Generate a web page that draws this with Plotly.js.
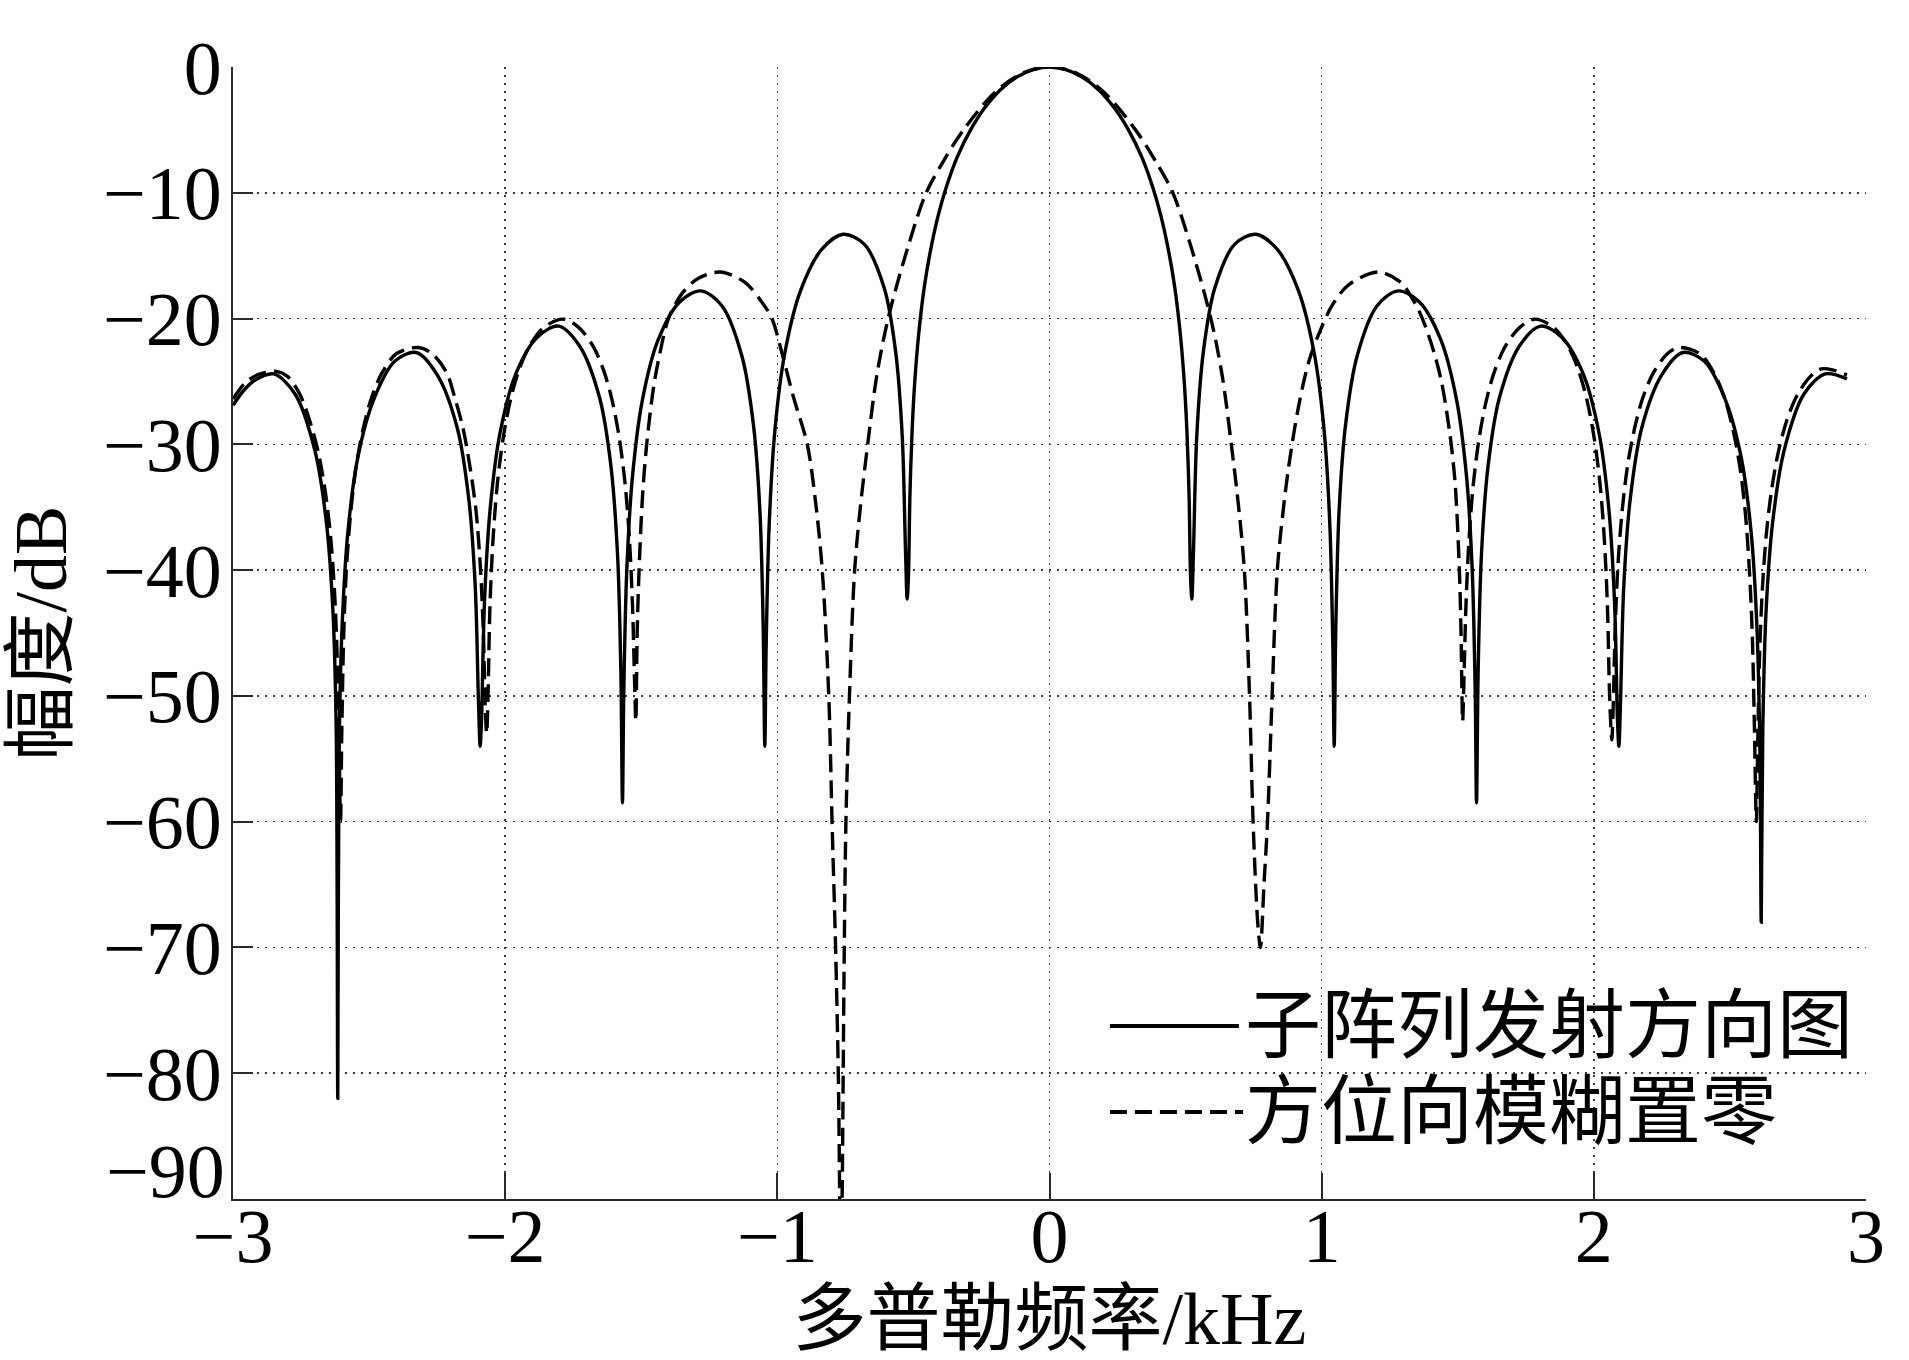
<!DOCTYPE html>
<html>
<head>
<meta charset="utf-8">
<script src="https://cdn.plot.ly/plotly-3.0.1.min.js"></script>
<style>
html,body{margin:0;padding:0;background:#ffffff;}
#chart{width:1909px;height:1360px;}
</style>
</head>
<body>
<div id="chart"></div>
<script>
// ---- text ----
const solidName = '子阵列发射方向图';
const dashedName = '方位向模糊置零';
const xTitle = '多普勒频率/kHz';
const yTitle = '幅度/dB';

// ---- ticks ----
const xTickVals = [-3, -2, -1, 0, 1, 2, 3];
const yTickVals = [0, -10, -20, -30, -40, -50, -60, -70, -80, -90];
// the bottom label (−90) sits a little higher in the reference, drawn separately below
const yTickText = ['0', '−10', '−20', '−30', '−40', '−50', '−60', '−70', '−80', ''];
const yBottomLabel = '−90';

// ---- series: 子阵列发射方向图 (solid) ----
const solidX = [
  -3.000, -2.960, -2.920, -2.850, -2.772, -2.699, -2.657, -2.633, -2.621, -2.615,
  -2.610, -2.599, -2.578, -2.542, -2.484, -2.406, -2.327, -2.249, -2.176, -2.134, -2.110, -2.098, -2.092,
  -2.087, -2.076, -2.055, -2.019, -1.961, -1.883, -1.804, -1.726, -1.653, -1.611, -1.587, -1.575, -1.569,
  -1.564, -1.553, -1.532, -1.496, -1.438, -1.360, -1.281, -1.203, -1.130, -1.088, -1.064, -1.052, -1.046,
  -1.041, -1.030, -1.009, -0.973, -0.915, -0.837, -0.758, -0.680, -0.607, -0.565, -0.541, -0.529, -0.523,
  -0.518, -0.513, -0.505, -0.495, -0.480, -0.460, -0.440, -0.410, -0.380, -0.340, -0.290, -0.240, -0.180, -0.120, -0.060,
  0.000,
  0.060, 0.120, 0.180, 0.240, 0.290, 0.340, 0.380, 0.410, 0.440, 0.460, 0.480, 0.495, 0.505, 0.513, 0.518, 0.523,
  0.529, 0.541, 0.565, 0.607, 0.680, 0.758, 0.837, 0.915, 0.973, 1.009, 1.030, 1.041, 1.046,
  1.052, 1.064, 1.088, 1.130, 1.203, 1.281, 1.360, 1.438, 1.496, 1.532, 1.553, 1.564, 1.569,
  1.575, 1.587, 1.611, 1.653, 1.726, 1.804, 1.883, 1.961, 2.019, 2.055, 2.076, 2.087, 2.092,
  2.098, 2.110, 2.134, 2.176, 2.249, 2.327, 2.406, 2.484, 2.542, 2.578, 2.599, 2.610, 2.615,
  2.621, 2.633, 2.657, 2.699, 2.772, 2.850, 2.930
];
const solidY = [
  -26.9, -25.7, -24.9, -24.4, -26.0, -30.5, -36.2, -43.2, -52.4, -82.0,
  -54.0, -44.4, -37.0, -31.1, -26.5, -23.4, -22.7, -24.5, -28.7, -34.3, -41.3, -50.5, -54.0,
  -52.0, -42.5, -35.1, -29.1, -24.4, -21.5, -20.6, -22.2, -26.3, -31.8, -38.8, -48.0, -58.5,
  -49.5, -39.9, -32.5, -26.5, -21.7, -18.7, -17.8, -19.0, -23.0, -28.4, -35.3, -44.5, -54.0,
  -46.0, -36.4, -28.9, -22.8, -17.8, -14.5, -13.3, -14.1, -17.6, -22.7, -29.4, -38.5, -42.3,
  -40.3, -34.2, -29.0, -25.0, -21.1, -17.5, -14.9, -11.9, -9.6, -7.2, -5.0, -3.3, -1.8, -0.8, -0.2,
  0.0,
  -0.2, -0.8, -1.8, -3.3, -5.0, -7.2, -9.6, -11.9, -14.9, -17.5, -21.1, -25.0, -29.0, -34.2, -40.3, -42.3,
  -38.5, -29.4, -22.7, -17.6, -14.1, -13.3, -14.5, -17.8, -22.8, -28.9, -36.4, -46.0, -54.0,
  -44.5, -35.3, -28.4, -23.0, -19.0, -17.8, -18.7, -21.7, -26.5, -32.5, -39.9, -49.5, -58.5,
  -48.0, -38.8, -31.8, -26.3, -22.2, -20.6, -21.5, -24.4, -29.1, -35.1, -42.5, -52.0, -54.0,
  -50.5, -41.3, -34.3, -28.7, -24.5, -22.7, -23.4, -26.5, -31.1, -37.0, -44.4, -54.0, -68.0,
  -52.4, -43.2, -36.2, -30.5, -26.0, -24.4, -24.8
];

// ---- series: 方位向模糊置零 (dashed) ----
const dashedX = [
  -3.000, -2.950, -2.900, -2.840, -2.800, -2.755, -2.717, -2.687, -2.662, -2.642, -2.627, -2.617, -2.610, -2.605,
  -2.600, -2.593, -2.583, -2.567, -2.547, -2.521, -2.491, -2.452, -2.400, -2.320, -2.268, -2.215, -2.185, -2.155, -2.130, -2.107, -2.091, -2.080, -2.073, -2.068,
  -2.063, -2.056, -2.045, -2.029, -2.008, -1.982, -1.951, -1.911, -1.858, -1.785, -1.730, -1.677, -1.637, -1.606, -1.580, -1.559, -1.543, -1.532, -1.525, -1.520,
  -1.515, -1.508, -1.495, -1.480, -1.455, -1.430, -1.400, -1.350, -1.290, -1.210, -1.120, -1.060, -1.020, -0.980, -0.940, -0.890, -0.860, -0.835, -0.811, -0.799, -0.786, -0.776, -0.767,
  -0.762, -0.758, -0.754, -0.748, -0.735, -0.716, -0.695, -0.668, -0.635, -0.593, -0.520, -0.453, -0.390, -0.316, -0.200, -0.100,
  0.000,
  0.100, 0.200, 0.316, 0.390, 0.453, 0.520, 0.593, 0.635, 0.668, 0.695, 0.716, 0.735, 0.748, 0.765, 0.775,
  0.788, 0.801, 0.818, 0.837, 0.860, 0.880, 0.915, 0.953, 0.990, 1.040, 1.100, 1.208, 1.290, 1.330, 1.370, 1.410, 1.440, 1.470, 1.490, 1.506, 1.512, 1.518,
  1.523, 1.530, 1.541, 1.557, 1.578, 1.604, 1.635, 1.675, 1.728, 1.782, 1.852, 1.905, 1.945, 1.976, 2.002, 2.023, 2.039, 2.050, 2.058, 2.066,
  2.071, 2.078, 2.088, 2.104, 2.124, 2.150, 2.180, 2.219, 2.270, 2.312, 2.390, 2.441, 2.480, 2.510, 2.536, 2.556, 2.571, 2.582, 2.590, 2.597,
  2.602, 2.609, 2.619, 2.634, 2.654, 2.679, 2.709, 2.747, 2.796, 2.836, 2.880, 2.930
];
const dashedY = [
  -26.4, -25.0, -24.4, -24.2, -24.6, -26.0, -28.2, -30.6, -33.6, -37.2, -41.7, -47.0, -54.0, -60.0,
  -52.5, -45.0, -39.8, -35.3, -31.7, -28.7, -26.3, -24.3, -22.8, -22.3, -22.8, -24.3, -26.3, -28.7, -31.7, -35.3, -39.8, -45.0, -51.0, -53.0,
  -50.0, -42.9, -37.7, -33.2, -29.6, -26.6, -24.2, -22.2, -20.7, -20.05, -20.7, -22.2, -24.2, -26.6, -29.6, -33.2, -37.7, -42.9, -48.5, -52.0,
  -45.0, -40.0, -34.0, -30.0, -25.5, -22.6, -20.0, -18.0, -16.8, -16.3, -17.1, -18.6, -20.0, -23.0, -26.3, -30.0, -34.5, -40.0, -50.0, -60.0, -70.0, -80.0, -95.0,
  -90.0, -80.0, -70.0, -60.0, -50.0, -40.0, -35.0, -30.0, -24.6, -20.0, -14.3, -10.0, -7.5, -5.0, -2.0, -0.5,
  0.0,
  -0.5, -2.0, -5.0, -7.5, -10.0, -14.3, -20.0, -24.6, -30.0, -35.0, -40.0, -50.0, -60.0, -68.0, -70.0,
  -65.0, -60.0, -50.0, -40.0, -35.0, -31.6, -27.0, -23.4, -21.2, -18.9, -17.3, -16.3, -17.1, -18.3, -20.0, -22.5, -25.0, -29.0, -33.0, -40.0, -45.0, -52.0,
  -48.5, -42.9, -37.7, -33.2, -29.6, -26.6, -24.2, -22.2, -20.7, -20.05, -20.7, -22.2, -24.2, -26.6, -29.6, -33.2, -37.7, -42.9, -50.0, -53.5,
  -51.0, -45.0, -39.8, -35.3, -31.7, -28.7, -26.3, -24.3, -22.8, -22.3, -22.8, -24.3, -26.3, -28.7, -31.7, -35.3, -39.8, -45.0, -52.5, -60.0,
  -54.0, -46.8, -41.6, -37.1, -33.5, -30.5, -28.1, -26.1, -24.6, -24.0, -24.1, -24.5
];

// ---- styling ----
const serif = "'Liberation Serif', 'Times New Roman', serif";
const mixed = "'Liberation Serif', 'Noto Sans CJK SC', serif";
const ink = '#000000';
const axisInk = '#2a2a2a';
const gridInk = '#3a3a3a';

const traces = [
  {
    type: 'scatter', mode: 'lines', name: solidName,
    x: solidX, y: solidY,
    line: {color: ink, width: 3.4, dash: 'solid', shape: 'spline', smoothing: 0.9},
    showlegend: false, hoverinfo: 'skip'
  },
  {
    type: 'scatter', mode: 'lines', name: dashedName,
    x: dashedX, y: dashedY,
    line: {color: ink, width: 3.4, dash: '18px,8px', shape: 'spline', smoothing: 0.9},
    showlegend: false, hoverinfo: 'skip'
  }
];

const commonAxis = {
  ticks: 'inside', tickwidth: 2, tickcolor: axisInk,
  showline: true, linecolor: axisInk, linewidth: 2, mirror: false,
  zeroline: false,
  showgrid: true, gridcolor: gridInk, gridwidth: 1.5, griddash: '2px,6px',
  tickfont: {family: serif, size: 76, color: ink},
  automargin: false, fixedrange: true
};

// legend drawn as keys + labels in the lower right
const legRow1 = 0.1528, legRow2 = 0.0769;
const legX0 = 0.537, legX1 = 0.616, legText = 0.6185;

const layout = {
  width: 1909, height: 1360,
  margin: {l: 233, r: 43, t: 67, b: 161, pad: 0},
  paper_bgcolor: '#ffffff', plot_bgcolor: '#ffffff',
  showlegend: false,
  font: {family: mixed, color: ink},
  xaxis: Object.assign({}, commonAxis, {
    range: [-3, 3], tickmode: 'array', tickvals: xTickVals, ticklen: 26,
    ticklabelstandoff: -30,
    title: {text: xTitle, font: {family: mixed, size: 74, color: ink}, standoff: 30}
  }),
  yaxis: Object.assign({}, commonAxis, {
    range: [-90, 0], tickmode: 'array', tickvals: yTickVals, ticktext: yTickText, ticklen: 20,
    ticklabelstandoff: -6,
    title: {text: yTitle, font: {family: mixed, size: 74, color: ink}, standoff: 24}
  }),
  shapes: [
    {type: 'line', xref: 'paper', yref: 'paper', x0: legX0, x1: legX1, y0: legRow1, y1: legRow1,
     line: {color: ink, width: 4, dash: 'solid'}},
    {type: 'line', xref: 'paper', yref: 'paper', x0: legX0, x1: legText, y0: legRow2, y1: legRow2,
     line: {color: ink, width: 4, dash: '17px,8px'}}
  ],
  annotations: [
    {xref: 'paper', yref: 'paper', x: legText, y: legRow1, xanchor: 'left', yanchor: 'middle',
     text: solidName, showarrow: false, font: {family: mixed, size: 76, color: ink}},
    {xref: 'paper', yref: 'paper', x: legText, y: legRow2, xanchor: 'left', yanchor: 'middle',
     text: dashedName, showarrow: false, font: {family: mixed, size: 76, color: ink}},
    {xref: 'paper', yref: 'paper', x: -0.0037, y: 0.0245, xanchor: 'right', yanchor: 'middle',
     text: yBottomLabel, showarrow: false, font: {family: serif, size: 76, color: ink}}
  ]
};

Plotly.newPlot('chart', traces, layout, {displayModeBar: false, staticPlot: true});
</script>
</body>
</html>
